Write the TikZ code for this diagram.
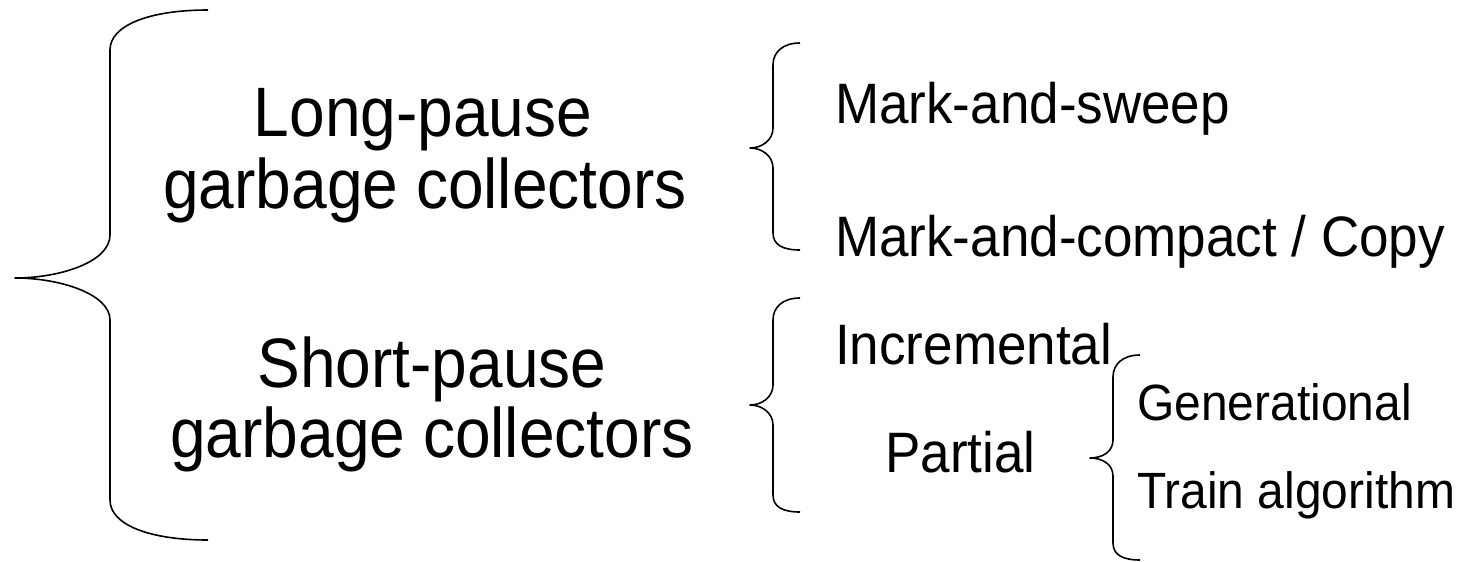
\documentclass[tikz,border=0pt]{standalone}
\usepackage{fontspec}
\setmainfont{Liberation Sans}
\newcommand{\bigtxt}[1]{\scalebox{0.915}[1]{#1}}
\newcommand{\midtxt}[1]{\scalebox{0.93}[1]{#1}}
\newcommand{\smalltxt}[1]{\scalebox{0.94}[1]{#1}}
\begin{document}
\begin{tikzpicture}[x=1pt,y=-1pt,
  big/.style={font=\fontsize{70}{76}\selectfont, inner sep=0pt, anchor=base},
  mid/.style={font=\fontsize{57}{62}\selectfont, inner sep=0pt, anchor=base west},
  small/.style={font=\fontsize{51}{56}\selectfont, inner sep=0pt, anchor=base west},
  brace/.style={line width=1.6pt, line join=round}]
\useasboundingbox (0,0) rectangle (1465,562);
% big brace
\draw[brace] (208,10) .. controls (150,10) and (110,25) .. (110,50) -- (110,235)
  .. controls (110,262) and (60,278) .. (15,278)
  .. controls (60,278) and (110,294) .. (110,320) -- (110,500)
  .. controls (110,525) and (150,540) .. (208,540);
% brace 2
\draw[brace] (800,43) .. controls (783,43) and (773,52) .. (773,65) -- (773,128)
  .. controls (773,140) and (762,148) .. (750,148)
  .. controls (762,148) and (773,156) .. (773,168) -- (773,233)
  .. controls (773,245) and (783,250) .. (800,250);
% brace 3
\draw[brace] (800,298) .. controls (783,298) and (773,307) .. (773,320) -- (773,385)
  .. controls (773,397) and (762,405) .. (750,405)
  .. controls (762,405) and (773,413) .. (773,425) -- (773,495)
  .. controls (773,507) and (783,512) .. (800,512);
% brace 4
\draw[brace] (1140,355) .. controls (1123,355) and (1113,364) .. (1113,377) -- (1113,440)
  .. controls (1113,452) and (1102,458) .. (1090,458)
  .. controls (1102,458) and (1113,464) .. (1113,476) -- (1113,543)
  .. controls (1113,555) and (1123,560) .. (1140,560);
% texts
\node[big] (lp1) at (423,136) {\bigtxt{Long-pause}};
\node[big] (lp2) at (425,208) {\bigtxt{garbage collectors}};
\node[big] (sp1) at (432,387) {\bigtxt{Short-pause}};
\node[big] (sp2) at (432,457) {\bigtxt{garbage collectors}};
\node[mid] (ms) at (835,123) {\midtxt{Mark-and-sweep}};
\node[mid] (mc) at (835,256) {\midtxt{Mark-and-compact / Copy}};
\node[mid] (inc) at (835,364) {\midtxt{Incremental}};
\node[mid] (par) at (885,472) {\midtxt{Partial}};
\node[small] (gen) at (1137,420) {\smalltxt{Generational}};
\node[small] (tr) at (1137,508) {\smalltxt{Train algorithm}};
\end{tikzpicture}
\end{document}
